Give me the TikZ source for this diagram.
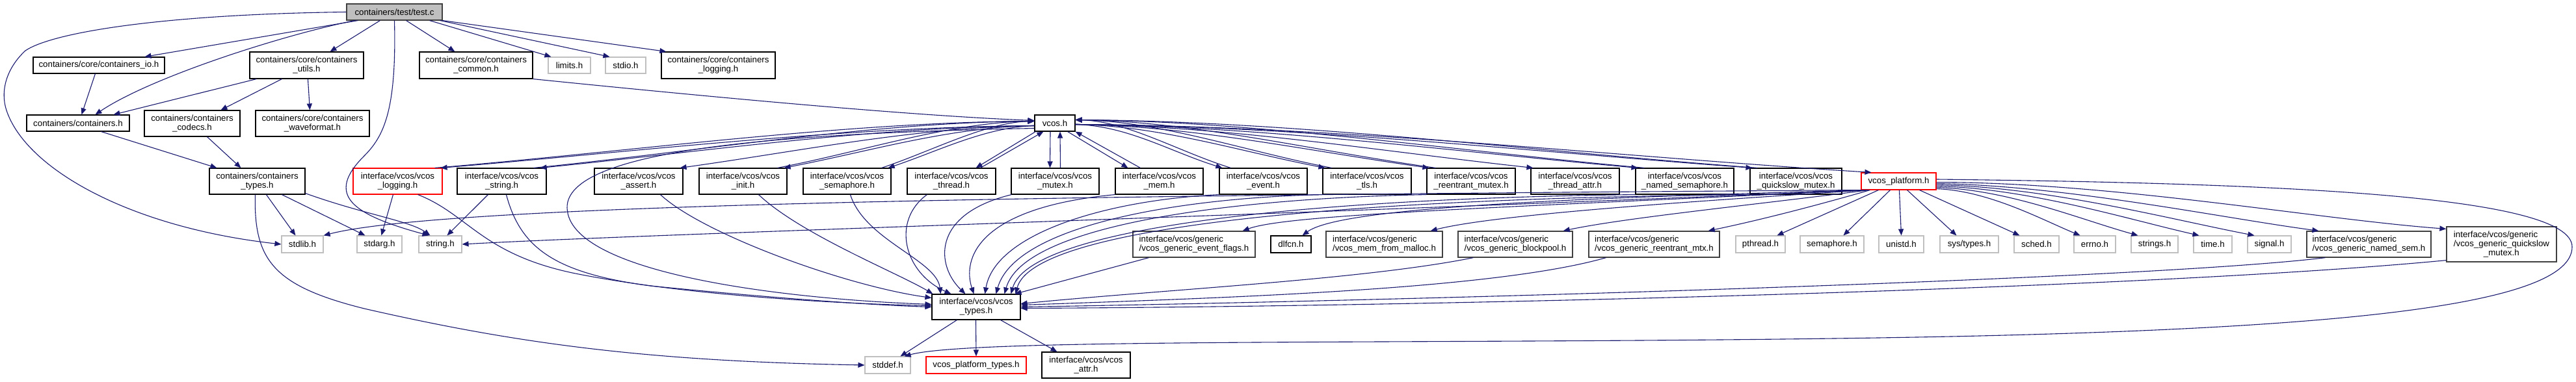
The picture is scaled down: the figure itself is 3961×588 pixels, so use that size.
\documentclass[tikz,border=0pt]{standalone}
\usepackage{fontspec}
\setmainfont{Liberation Sans}
\usepackage{xcolor}
\usepackage{tikz}
\usetikzlibrary{arrows.meta,positioning,calc}
\definecolor{dxedge}{HTML}{191970}
\definecolor{dxgray}{HTML}{BFBFBF}
\definecolor{dxred}{HTML}{FF0000}
\definecolor{dxdark}{HTML}{404040}

\begin{document}
\begin{tikzpicture}[x=1pt, y=-1pt, >={Triangle[length=10pt, width=8pt]},
    font=\fontsize{13.3}{14}\selectfont,
    hdr/.style={draw=black, line width=1.1pt, fill=white, inner sep=1pt, align=center},
    sysh/.style={hdr, draw=dxgray},
    redh/.style={hdr, draw=dxred},
    rooth/.style={hdr, draw=dxdark, fill=dxgray},
    gen/.style={hdr, draw=dxdark, line width=1.3pt, align=left},
    incl/.style={->, draw=dxedge, line width=1.1pt}]

\useasboundingbox (0,0) rectangle (3961,588);

%%% ---------- CAJAS (x1, y1, x2, y2 en px) ----------
\def\archivo#1#2#3#4#5#6#7{
    \node[#2, minimum width=#5-#3, minimum height=#6-#4] (#1) at ({(#3+#5)/2},{(#4+#6)/2}) {#7};
}

% Raiz
\archivo{testc}{rooth}{533}{6}{680}{31}{containers/test/test.c}

% Nivel 1
\archivo{cio}{hdr}{51}{88}{253}{113}{containers/core/containers\_io.h}
\archivo{cutils}{hdr}{384}{80}{559}{121}{containers/core/containers\\\_utils.h}
\archivo{ccommon}{hdr}{645}{80}{819}{121}{containers/core/containers\\\_common.h}
\archivo{limits}{sysh}{843}{88}{908}{113}{limits.h}
\archivo{stdio}{sysh}{931}{88}{993}{113}{stdio.h}
\archivo{clogging}{hdr}{1017}{80}{1192}{121}{containers/core/containers\\\_logging.h}

% Nivel 2
\archivo{cont}{hdr}{41}{177}{199}{202}{containers/containers.h}
\archivo{ccodecs}{hdr}{222}{170}{369}{210}{containers/containers\\\_codecs.h}
\archivo{cwave}{hdr}{393}{170}{568}{210}{containers/core/containers\\\_waveformat.h}
\archivo{vcos}{hdr}{1591}{177}{1653}{202}{vcos.h}

% Nivel 3
\archivo{ctypes}{hdr}{322}{259}{469}{299}{containers/containers\\\_types.h}
\archivo{vlogging}{redh}{543}{259}{680}{299}{interface/vcos/vcos\\\_logging.h}
\archivo{vstring}{hdr}{703}{259}{840}{299}{interface/vcos/vcos\\\_string.h}
\archivo{vassert}{hdr}{914}{259}{1050}{299}{interface/vcos/vcos\\\_assert.h}
\archivo{vinit}{hdr}{1075}{259}{1210}{299}{interface/vcos/vcos\\\_init.h}
\archivo{vsem}{hdr}{1235}{259}{1370}{299}{interface/vcos/vcos\\\_semaphore.h}
\archivo{vthread}{hdr}{1395}{259}{1531}{299}{interface/vcos/vcos\\\_thread.h}
\archivo{vmutex}{hdr}{1555}{259}{1690}{299}{interface/vcos/vcos\\\_mutex.h}
\archivo{vmem}{hdr}{1715}{259}{1850}{299}{interface/vcos/vcos\\\_mem.h}
\archivo{vevent}{hdr}{1875}{259}{2010}{299}{interface/vcos/vcos\\\_event.h}
\archivo{vtls}{hdr}{2034}{259}{2170}{299}{interface/vcos/vcos\\\_tls.h}
\archivo{vrmutex}{hdr}{2194}{259}{2330}{299}{interface/vcos/vcos\\\_reentrant\_mutex.h}
\archivo{vtattr}{hdr}{2354}{259}{2490}{299}{interface/vcos/vcos\\\_thread\_attr.h}
\archivo{vnsem}{hdr}{2515}{259}{2666}{299}{interface/vcos/vcos\\\_named\_semaphore.h}
\archivo{vqsmutex}{hdr}{2691}{259}{2832}{299}{interface/vcos/vcos\\\_quickslow\_mutex.h}
\archivo{vplat}{redh}{2862}{266}{2977}{292}{vcos\_platform.h}

% Nivel 4
\archivo{stdlib}{sysh}{433}{363}{497}{389}{stdlib.h}
\archivo{stdarg}{sysh}{549}{363}{618}{389}{stdarg.h}
\archivo{string}{sysh}{644}{363}{710}{389}{string.h}
\archivo{evflags}{gen}{1742}{356}{1930}{396}{interface/vcos/generic\\/vcos\_generic\_event\_flags.h}
\archivo{dlfcn}{hdr}{1954}{363}{2016}{389}{dlfcn.h}
\archivo{memmalloc}{gen}{2039}{356}{2218}{396}{interface/vcos/generic\\/vcos\_mem\_from\_malloc.h}
\archivo{blockpool}{gen}{2242}{356}{2418}{396}{interface/vcos/generic\\/vcos\_generic\_blockpool.h}
\archivo{rmtx}{gen}{2443}{356}{2644}{396}{interface/vcos/generic\\/vcos\_generic\_reentrant\_mtx.h}
\archivo{pthread}{sysh}{2669}{363}{2745}{389}{pthread.h}
\archivo{semaphore}{sysh}{2768}{363}{2866}{389}{semaphore.h}
\archivo{unistd}{sysh}{2889}{363}{2958}{389}{unistd.h}
\archivo{systypes}{sysh}{2983}{363}{3073}{389}{sys/types.h}
\archivo{sched}{sysh}{3097}{363}{3166}{389}{sched.h}
\archivo{errno}{sysh}{3189}{363}{3253}{389}{errno.h}
\archivo{strings}{sysh}{3277}{363}{3349}{389}{strings.h}
\archivo{time}{sysh}{3373}{363}{3432}{389}{time.h}
\archivo{signal}{sysh}{3456}{363}{3523}{389}{signal.h}
\archivo{namedsem}{gen}{3547}{356}{3738}{396}{interface/vcos/generic\\/vcos\_generic\_named\_sem.h}
\archivo{gqsmutex}{gen}{3762}{349}{3931}{403}{interface/vcos/generic\\/vcos\_generic\_quickslow\\\hspace*{46pt}\_mutex.h}

% Nivel 5 y 6
\archivo{vtypes}{hdr}{1433}{453}{1569}{492}{interface/vcos/vcos\\\_types.h}
\archivo{stddef}{sysh}{1330}{549}{1400}{575}{stddef.h}
\archivo{vptypes}{redh}{1424}{549}{1578}{575}{vcos\_platform\_types.h}
\archivo{vattr}{hdr}{1602}{542}{1738}{582}{interface/vcos/vcos\\\_attr.h}

%%% ---------- DEPENDENCIAS ----------

% test.c
\draw[incl] (testc.west) .. controls (250,22) and (80,50) .. (39,78)
    .. controls (10,105) and (0,140) .. (10,170) .. controls (40,260) and (200,350) .. (stdlib.west);
\draw[incl] ([xshift=18]testc.south west) -- ([xshift=172]cio.north west);
\draw[incl] ([xshift=13]testc.south west) .. controls (430,55) and (230,120) .. ([xshift=106]cont.north west);
\draw[incl] ([xshift=52]testc.south west) -- ([xshift=124]cutils.north west);
\draw[incl] (testc.south) .. controls (610,170) and (590,210) .. (560,240)
    .. controls (500,300) and (540,330) .. ([xshift=16]string.north west);
\draw[incl] ([xshift=-56]testc.south east) -- ([xshift=55]ccommon.north west);
\draw[incl] ([xshift=-20]testc.south east) -- ([xshift=5]limits.north west);
\draw[incl] ([xshift=-4]testc.south east) -- ([xshift=7]stdio.north west);
\draw[incl] (testc.south east) -- ([xshift=8]clogging.north west);

% containers
\draw[incl] ([xshift=96]cio.south west) -- ([xshift=85]cont.north west);
\draw[incl] ([xshift=11]cutils.south west) -- ([xshift=134]cont.north west);
\draw[incl] ([xshift=50]cutils.south west) -- ([xshift=118]ccodecs.north west);
\draw[incl] ([xshift=90]cutils.south west) -- ([xshift=84]cwave.north west);
\draw[incl] ([xshift=115]cont.south west) -- ([xshift=12]ctypes.north west);
\draw[incl] ([xshift=97]ccodecs.south west) -- ([xshift=49]ctypes.north west);
\draw[incl] (ccommon.south east) .. controls (1100,150) and (1400,178) .. ([yshift=4]vcos.west);

\draw[incl] ([xshift=88]ctypes.south west) -- ([xshift=22]stdlib.north west);
\draw[incl] ([xshift=112]ctypes.south west) -- ([xshift=13]stdarg.north west);
\draw[incl] ([yshift=2]ctypes.south east) .. controls (560,330) and (630,340) .. ([xshift=18]string.north west);
\draw[incl] ([xshift=71]ctypes.south west) .. controls (390,400) and (420,440) .. (560,475)
    .. controls (800,530) and (1000,556) .. (stddef.west);

% vcos_logging / vcos_string
\draw[incl] ([xshift=62]vlogging.south west) -- ([xshift=38]stdarg.north west);
\draw[incl] ([xshift=-38]vlogging.south east) .. controls (720,330) and (740,390) .. (880,420)
    .. controls (1050,455) and (1300,468) .. ([yshift=2]vtypes.west);
\draw[incl] ([xshift=48]vstring.south west) -- ([xshift=44]string.north west);
\draw[incl] ([xshift=76]vstring.south west) .. controls (800,380) and (850,420) .. (1000,440)
    .. controls (1200,460) and (1350,470) .. (vtypes.west);

% vcos.h <-> vcos_*.h
\foreach \nodo/\dx/\lx in {vlogging/-3/300, vstring/-10/250, vassert/-5/180, vinit/-5/130, vsem/-5/75}
    \draw[incl] ([yshift=-4]vcos.west) .. controls +(-\lx,2) and +(\lx,-25) .. ([xshift=\dx]\nodo.north east);
\foreach \nodo/\dx/\lx in {vlogging/-12/300, vstring/-20/250, vinit/-15/130, vsem/-15/75}
    \draw[incl] ([xshift=\dx]\nodo.north east) .. controls +(\lx,-25) and +(-\lx,2) .. ([yshift=3]vcos.west);
\draw[incl] ([xshift=2]vcos.south west) -- ([xshift=-31]vthread.north east);
\draw[incl] ([xshift=-24]vthread.north east) -- ([xshift=14]vcos.south west);
\draw[incl] ([xshift=-7]vcos.south) -- ([xshift=-8]vmutex.north);
\draw[incl] ([xshift=8]vmutex.north) -- ([xshift=8]vcos.south);
\draw[incl] ([xshift=-12]vcos.south east) -- ([xshift=20]vmem.north west);
\draw[incl] ([xshift=39]vmem.north west) -- (vcos.south east);
\foreach \nodo/\dx/\lx in {vevent/5/80, vtls/4/130, vrmutex/4/180, vtattr/4/230, vnsem/4/280, vqsmutex/4/340, vplat/16/400}
    \draw[incl] ([yshift=-2]vcos.east) .. controls +(\lx,2) and +(-\lx,-25) .. ([xshift=\dx]\nodo.north west);
\foreach \nodo/\dx/\lx in {vevent/18/80, vtls/14/130, vrmutex/14/180, vnsem/14/280, vqsmutex/12/340}
    \draw[incl] ([xshift=\dx]\nodo.north west) .. controls +(-\lx,-25) and +(\lx,2) .. ([yshift=5]vcos.east);
\draw[incl] ([yshift=-8]vcos.west) .. controls (1200,205) and (870,230) .. (872,320)
    .. controls (875,420) and (1200,460) .. ([yshift=4]vtypes.west);

% vcos_*.h -> vcos_types.h
\draw[incl] ([xshift=102]vassert.south west) .. controls (1080,360) and (1300,440) .. ([yshift=14]vtypes.west);
\draw[incl] ([xshift=92]vinit.south west) .. controls (1230,360) and (1380,420) .. ([xshift=2]vtypes.north west);
\draw[incl] ([xshift=73]vsem.south west) .. controls (1330,370) and (1440,400) .. ([xshift=14]vtypes.north west);
\draw[incl] ([xshift=31]vthread.south west) .. controls (1370,340) and (1390,420) .. ([xshift=30]vtypes.north west);
\draw[incl] ([xshift=1]vmutex.south west) .. controls (1430,330) and (1440,410) .. ([xshift=52]vtypes.north west);
\draw[incl] (vmem.south west) .. controls (1500,320) and (1480,400) .. ([xshift=65]vtypes.north west);
\draw[incl] (vevent.south west) .. controls (1700,308) and (1530,360) .. ([xshift=82]vtypes.north west);
\draw[incl] (vtls.south west) .. controls (1800,305) and (1560,350) .. ([xshift=99]vtypes.north west);
\draw[incl] (vrmutex.south west) .. controls (1900,305) and (1575,345) .. ([xshift=112]vtypes.north west);
\draw[incl] (vnsem.south west) .. controls (2050,305) and (1585,345) .. ([xshift=122]vtypes.north west);
\draw[incl] (vqsmutex.south west) .. controls (2100,305) and (1590,345) .. ([xshift=129]vtypes.north west);

% vcos_platform.h
\draw[incl] (vplat.south west) .. controls (1800,300) and (700,310) .. (stdlib.north east);
\draw[incl] ([xshift=3]vplat.south west) .. controls (2000,330) and (1000,360) .. (string.east);
\draw[incl] ([xshift=6]vplat.south west) .. controls (2300,320) and (1980,330) .. ([xshift=-20]evflags.north east);
\draw[incl] ([xshift=8]vplat.south west) .. controls (2400,305) and (2060,320) .. ([xshift=-14]dlfcn.north east);
\draw[incl] ([xshift=10]vplat.south west) .. controls (2600,310) and (2300,330) .. ([xshift=-19]memmalloc.north east);
\draw[incl] ([xshift=12]vplat.south west) .. controls (2700,315) and (2500,335) .. ([xshift=-15]blockpool.north east);
\draw[incl] ([xshift=14]vplat.south west) .. controls (2780,320) and (2700,340) .. ([xshift=-18]rmtx.north east);
\draw[incl] ([xshift=27]vplat.south west) -- ([xshift=64]pthread.north west);
\draw[incl] ([xshift=45]vplat.south west) -- ([xshift=67]semaphore.north west);
\draw[incl] ([xshift=59]vplat.south west) -- (unistd.north);
\draw[incl] ([xshift=71]vplat.south west) -- ([xshift=26]systypes.north west);
\draw[incl] ([xshift=90]vplat.south west) -- ([xshift=9]sched.north west);
\foreach \nodo/\dy/\dx/\la/\lb/\ly in {errno/2/10/80/60/25, strings/4/11/110/90/25, time/6/9/140/110/25,
                                   signal/8/11/170/130/25, namedsem/10/19/200/150/20}
    \draw[incl] ([yshift=\dy]vplat.south east) .. controls +(\la,3) and +(-\lb,-\ly) .. ([xshift=\dx]\nodo.north west);
\draw[incl] ([yshift=12]vplat.south east) .. controls +(270,0) and +(-200,-15) .. ([yshift=-4]gqsmutex.north west);
\draw[incl] ([yshift=3]vplat.east) .. controls (3500,282) and (3955,300) .. (3955,380)
    .. controls (3955,470) and (3600,505) .. (3000,518)
    .. controls (2300,532) and (1500,518) .. ([xshift=-10]stddef.north east);

% generic -> vcos_types.h
\draw[incl] ([xshift=25]evflags.south west) -- ([xshift=-9]vtypes.north east);
\draw[incl] ([xshift=24]blockpool.south west) .. controls (2100,430) and (1800,445) .. ([yshift=5]vtypes.east);
\draw[incl] ([xshift=27]rmtx.south west) .. controls (2300,445) and (1900,458) .. ([yshift=3]vtypes.east);
\draw[incl] ([xshift=29]namedsem.south west) .. controls (3300,430) and (2200,462) .. (vtypes.east);
\draw[incl] ([yshift=3]gqsmutex.south west) .. controls (3300,445) and (2200,472) .. ([yshift=-2]vtypes.east);

% vcos_types.h
\draw[incl] ([xshift=39]vtypes.south west) -- ([xshift=55]stddef.north west);
\draw[incl] ([xshift=68]vtypes.south west) -- (vptypes.north);
\draw[incl] ([xshift=106]vtypes.south west) -- ([xshift=24]vattr.north west);

\end{tikzpicture}
\end{document}
